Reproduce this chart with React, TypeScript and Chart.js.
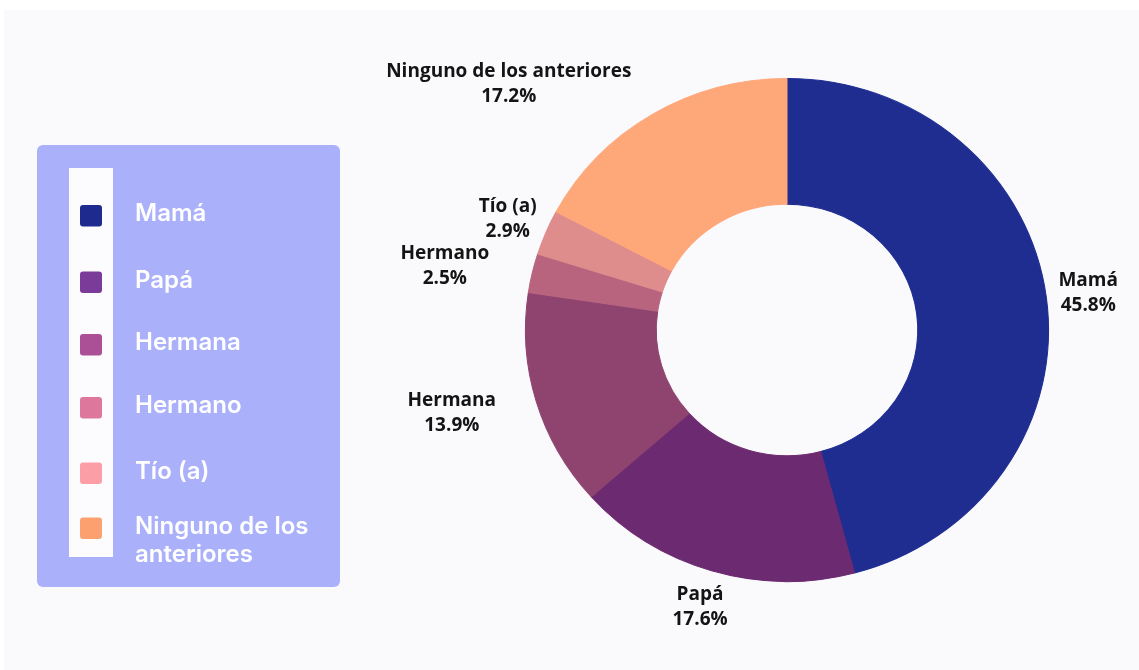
import React, { useEffect, useRef } from "react";
import { Chart, registerables } from "chart.js";

Chart.register(...registerables);

// ---- data ----
const categories = ["Mamá", "Papá", "Hermana", "Hermano", "Tío (a)", "Ninguno de los anteriores"];
const percentages = [45.8, 17.6, 13.9, 2.5, 2.9, 17.2];
const legendLines = [["Mamá"], ["Papá"], ["Hermana"], ["Hermano"], ["Tío (a)"], ["Ninguno de los", "anteriores"]];

// ---- styles / layout ----
const sliceColors = ["#1f2d91", "#6c2a70", "#8f4470", "#b9647f", "#de8c8c", "#fea87a"];
const legendColors = ["#1f2a8f", "#7b3b98", "#ab4f97", "#dd779b", "#fc9ea5", "#fca070"];
const W = 1139;
const H = 670;
const STRETCH_X = 1.04;
const labelNudgeX = [0, 0, -30, -32, 0, -74];
const legendRowY = [216, 282.5, 345, 408, 473.5, 528.5];
const LABEL_FONT = "700 19px 'Open Sans'";
const LEGEND_FONT = "600 24px Inter";

const pageBg = {
  id: "pageBg",
  beforeDraw(chart: any) {
    const ctx = chart.ctx;
    ctx.save();
    ctx.fillStyle = "#ffffff";
    ctx.fillRect(0, 0, W, H);
    ctx.fillStyle = "#fafafd";
    ctx.fillRect(4, 10, W - 4, H - 10);
    // legend box
    ctx.fillStyle = "#aab0fa";
    ctx.beginPath();
    ctx.roundRect(37, 145, 303, 442, 6);
    ctx.fill();
    ctx.fillStyle = "#fcfcff";
    ctx.fillRect(69, 168, 44, 389);
    legendLines.forEach((lines, i) => {
      const cy = legendRowY[i];
      ctx.fillStyle = legendColors[i];
      ctx.beginPath();
      ctx.roundRect(80, cy - 11, 22, 21.5, 3);
      ctx.fill();
      ctx.fillStyle = "#ffffff";
      ctx.font = LEGEND_FONT;
      ctx.textAlign = "left";
      ctx.textBaseline = "alphabetic";
      lines.forEach((ln, j) => {
        ctx.fillText(ln, 135, cy + 5 + j * 28);
      });
    });
    ctx.restore();
  },
};

const stretch = {
  id: "stretch",
  beforeDatasetsDraw(chart: any) {
    const arc = chart.getDatasetMeta(0).data[0];
    if (!arc) return;
    const ctx = chart.ctx;
    ctx.save();
    ctx.translate(arc.x, arc.y);
    ctx.scale(STRETCH_X, 1);
    ctx.translate(-arc.x, -arc.y);
  },
  afterDatasetsDraw(chart: any) {
    chart.ctx.restore();
  },
};

const outerLabels = {
  id: "outerLabels",
  afterDraw(chart: any) {
    const ctx = chart.ctx;
    const meta = chart.getDatasetMeta(0);
    ctx.save();
    ctx.font = LABEL_FONT;
    ctx.fillStyle = "#141414";
    ctx.textAlign = "center";
    ctx.textBaseline = "alphabetic";
    meta.data.forEach((arc: any, i: number) => {
      const p = arc.getProps(["x", "y", "startAngle", "endAngle", "outerRadius"], true);
      const mid = (p.startAngle + p.endAngle) / 2;
      const ux = Math.cos(mid);
      const uy = Math.sin(mid);
      const l1 = String(chart.data.labels[i]);
      const l2 = Number(chart.data.datasets[0].data[i]).toFixed(1) + "%";
      const w = Math.max(ctx.measureText(l1).width, ctx.measureText(l2).width);
      const R = p.outerRadius + 12;
      const cx = p.x + (R * STRETCH_X + w / 2) * ux + labelNudgeX[i];
      const cy = p.y + (R + 25) * uy;
      ctx.fillText(l1, cx, cy - 6);
      ctx.fillText(l2, cx, cy + 19);
    });
    ctx.restore();
  },
};

export default function App() {
  const ref = useRef<HTMLCanvasElement | null>(null);
  useEffect(() => {
    if (!ref.current) return;
    const chart = new Chart(ref.current, {
      type: "doughnut",
      data: {
        labels: categories,
        datasets: [
          {
            data: percentages,
            backgroundColor: sliceColors,
            borderColor: sliceColors,
            borderWidth: 1,
            clip: false,
          } as any,
        ],
      },
      options: {
        responsive: false,
        animation: false,
        cutout: "50%",
        layout: { padding: { left: 535, right: 100, top: 78, bottom: 88 } },
        plugins: { legend: { display: false }, tooltip: { enabled: false } },
      },
      plugins: [pageBg, stretch, outerLabels],
    });
    return () => chart.destroy();
  }, []);
  return (
    <div style={{ position: "absolute", left: 0, top: 0, width: W, height: H }}>
      <canvas ref={ref} width={W} height={H} style={{ width: W, height: H, display: "block" }} />
    </div>
  );
}
